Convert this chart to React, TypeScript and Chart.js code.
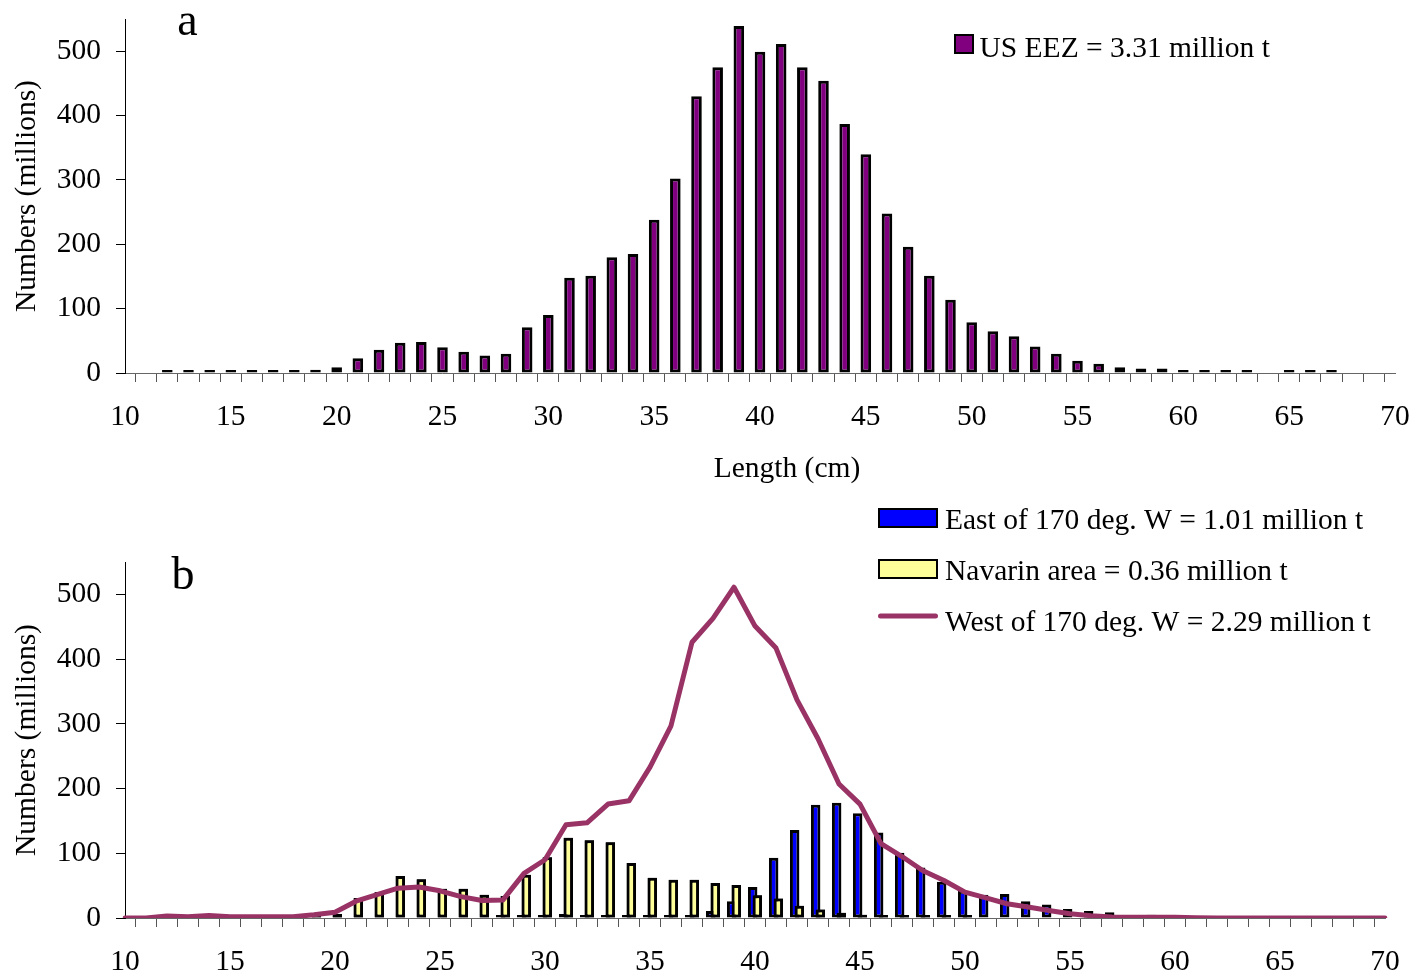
import React, { useEffect, useRef } from 'react';
import { Chart, registerables } from 'chart.js';

Chart.register(...registerables);

const FONT_FAMILY = "'Liberation Serif', 'Times New Roman', Times, serif";
const FONT_SIZE = 29.5;

// Length classes (cm)
const lengthLabels = [
  '10', '11', '12', '13', '14', '15', '16', '17', '18', '19',
  '20', '21', '22', '23', '24', '25', '26', '27', '28', '29',
  '30', '31', '32', '33', '34', '35', '36', '37', '38', '39',
  '40', '41', '42', '43', '44', '45', '46', '47', '48', '49',
  '50', '51', '52', '53', '54', '55', '56', '57', '58', '59',
  '60', '61', '62', '63', '64', '65', '66', '67', '68', '69', '70',
];

const xTitle = 'Length (cm)';
const yTitle = 'Numbers (millions)';

// Panel a: US EEZ numbers (millions)
const usEez = [
  null, null, 3, 2.5, 4.5, 2.5, 2.5, 2.5, 2, 5,
  9, 23, 36, 47, 48, 40, 33, 27, 30, 71,
  90, 148, 151, 180, 185, 238, 302, 430, 475, 539,
  499, 511, 475, 454, 387, 340, 248, 196, 151, 114,
  79, 65, 57, 41, 30, 19, 14.5, 9, 7, 7,
  4.5, 3.5, 3, 3, null, 2, 2, 2, null, null, null,
];

// Panel b: East of 170 deg. W
const eastOf170 = [
  null, null, null, null, null, null, null, null, null, null,
  null, null, null, null, null, null, null, null, 1, 1,
  2, 6, 3, 3, 3, 3, 3, 3, 11, 26,
  48, 93, 136, 175, 178, 162, 132, 101, 78, 56,
  42, 36, 37, 26, 21, 14, 11, 9, 4.5, 5,
  4.5, null, null, null, null, null, null, null, null, null, null,
];

// Panel b: Navarin area
const navarin = [
  null, null, null, null, null, null, null, null, null, 1,
  6, 31, 40, 65, 60, 45, 45, 36, 34, 67,
  94, 124, 120, 117, 85, 62, 59, 59, 54, 51,
  35, 30, 19, 13, 8, 5, 4, 2, 1.5, 1,
  1, null, null, null, null, null, null, null, null, null,
  null, null, null, null, null, null, null, null, null, null, null,
];

// Panel b: West of 170 deg. W (line)
const westOf170 = [
  0, 0, 3, 2, 4, 2, 2, 2, 2, 5,
  9, 26, 36, 46, 48, 42, 33, 27, 28, 69,
  90, 144, 147, 176, 181, 233, 297, 426, 463, 511,
  451, 417, 337, 277, 207, 176, 115, 95, 73, 58,
  40, 31, 22, 17, 11.5, 6.5, 3.5, 1.5, 1, 1,
  1, 0.5, 0, 0, 0, 0, 0, 0, 0, 0, 0,
];

const yTickMax = 500;

const font = { family: FONT_FAMILY, size: FONT_SIZE };

function xAxis(height: number) {
  return {
    type: 'category',
    offset: false,
    grid: {
      display: true,
      drawOnChartArea: false,
      drawTicks: true,
      tickLength: 9,
      tickColor: '#555',
      tickWidth: 1,
    },
    border: { display: true, color: '#666', width: 1 },
    ticks: {
      autoSkip: false,
      maxRotation: 0,
      minRotation: 0,
      padding: 18,
      color: '#000',
      font,
      callback: function (this: any, value: any) {
        const lab = this.getLabelForValue(value);
        return Number(lab) % 5 === 0 ? lab : '';
      },
    },
    title: { display: false },
    afterFit: (s: any) => {
      s.height = height;
      s.paddingLeft = 0;
      s.paddingRight = 0;
    },
  };
}

function yAxis() {
  return {
    type: 'linear',
    min: 0,
    max: 550,
    grid: {
      display: true,
      drawOnChartArea: false,
      drawTicks: true,
      tickLength: 9,
      tickColor: '#000',
      tickWidth: 1,
    },
    border: { display: true, color: '#000', width: 1 },
    ticks: { stepSize: 100, padding: 15, color: '#000', font },
    afterBuildTicks: (s: any) => {
      s.ticks = s.ticks.filter((t: any) => t.value <= yTickMax);
    },
    title: {
      display: true,
      text: yTitle,
      color: '#000',
      font,
      padding: { top: 9.5, bottom: 0 },
    },
    afterFit: (s: any) => {
      s.width = 125;
      s.paddingTop = 0;
      s.paddingBottom = 0;
    },
  };
}

type LegendItem = {
  kind: 'box' | 'line';
  datasetIndex: number;
  x: number;
  y: number;
  w: number;
  h: number;
  textX: number;
  textY: number;
};

type OverlayText = { text: string; x: number; y: number; size: number };

function overlayPlugin(texts: OverlayText[], items: LegendItem[]) {
  return {
    id: 'overlay',
    afterDraw(chart: any) {
      const ctx = chart.ctx as CanvasRenderingContext2D;
      ctx.save();
      ctx.fillStyle = '#000';
      ctx.textAlign = 'center';
      ctx.textBaseline = 'alphabetic';
      for (const t of texts) {
        ctx.font = `${t.size}px ${FONT_FAMILY}`;
        ctx.fillText(t.text, t.x, t.y);
      }
      // legend
      ctx.textAlign = 'left';
      ctx.font = `${FONT_SIZE}px ${FONT_FAMILY}`;
      for (const it of items) {
        const ds = chart.data.datasets[it.datasetIndex];
        if (it.kind === 'box') {
          ctx.fillStyle = ds.backgroundColor;
          ctx.fillRect(it.x, it.y, it.w, it.h);
          ctx.strokeStyle = '#000';
          ctx.lineWidth = 2;
          ctx.strokeRect(it.x + 1, it.y + 1, it.w - 2, it.h - 2);
        } else {
          ctx.strokeStyle = ds.borderColor;
          ctx.lineWidth = 5;
          ctx.lineCap = 'round';
          ctx.beginPath();
          ctx.moveTo(it.x + 2.5, it.y);
          ctx.lineTo(it.x + it.w - 2.5, it.y);
          ctx.stroke();
        }
        ctx.fillStyle = '#000';
        ctx.fillText(ds.label, it.textX, it.textY);
      }
      ctx.restore();
    },
  };
}

// Draw the Navarin bars over the East bars (as in the original overlapped grouping)
const overlapPlugin = {
  id: 'overlapRedraw',
  afterDatasetDraw(chart: any, args: any) {
    if (args.index === 0) {
      const meta = chart.getDatasetMeta(1);
      if (meta && meta.controller) meta.controller.draw();
    }
  },
};

export default function App() {
  const topRef = useRef<HTMLCanvasElement | null>(null);
  const botRef = useRef<HTMLCanvasElement | null>(null);

  useEffect(() => {
    Chart.defaults.font.family = FONT_FAMILY;
    Chart.defaults.color = '#000';

    const top = new Chart(topRef.current as HTMLCanvasElement, {
      type: 'bar',
      data: {
        labels: lengthLabels,
        datasets: [
          {
            label: 'US EEZ = 3.31 million t',
            data: usEez as any,
            backgroundColor: '#800080',
            borderColor: '#000',
            borderWidth: 3,
            borderSkipped: false,
            inflateAmount: 0,
            barPercentage: 0.5,
            categoryPercentage: 1,
            minBarLength: 3,
          } as any,
        ],
      },
      options: {
        responsive: false,
        animation: false,
        layout: { padding: { top: 19, right: 19, left: 0, bottom: 0 } },
        plugins: { legend: { display: false }, tooltip: { enabled: false } },
        scales: { x: xAxis(117) as any, y: yAxis() as any },
      },
      plugins: [
        overlayPlugin(
          [
            { text: 'a', x: 187.5, y: 35, size: 46 },
            { text: xTitle, x: 787, y: 477, size: FONT_SIZE },
          ],
          [{ kind: 'box', datasetIndex: 0, x: 954, y: 34, w: 20, h: 20, textX: 979.5, textY: 56.5 }]
        ),
      ],
    });

    const bot = new Chart(botRef.current as HTMLCanvasElement, {
      type: 'bar',
      data: {
        labels: lengthLabels,
        datasets: [
          {
            type: 'bar',
            label: 'East of 170 deg. W = 1.01 million t',
            data: eastOf170 as any,
            backgroundColor: '#0000FF',
            borderColor: '#000',
            borderWidth: 3,
            borderSkipped: false,
            inflateAmount: 0,
            barPercentage: 2.04,
            categoryPercentage: 0.443,
            minBarLength: 3,
            order: 0,
          } as any,
          {
            type: 'bar',
            label: 'Navarin area = 0.36 million t',
            data: navarin as any,
            backgroundColor: '#FFFF99',
            borderColor: '#000',
            borderWidth: 3,
            borderSkipped: false,
            inflateAmount: 0,
            barPercentage: 2.04,
            categoryPercentage: 0.443,
            minBarLength: 3,
            order: 0,
          } as any,
          {
            type: 'line',
            label: 'West of 170 deg. W = 2.29 million t',
            data: westOf170,
            borderColor: '#993366',
            backgroundColor: '#993366',
            borderWidth: 5,
            pointRadius: 0,
            tension: 0,
            fill: false,
            borderJoinStyle: 'round',
            borderCapStyle: 'round',
            order: -1,
          } as any,
        ],
      },
      options: {
        responsive: false,
        animation: false,
        layout: { padding: { top: 72, right: 29, left: 0, bottom: 0 } },
        plugins: { legend: { display: false }, tooltip: { enabled: false } },
        scales: { x: xAxis(58) as any, y: yAxis() as any },
      },
      plugins: [
        overlapPlugin,
        overlayPlugin(
          [{ text: 'b', x: 183, y: 99, size: 46 }],
          [
            { kind: 'box', datasetIndex: 0, x: 878, y: 18, w: 60, h: 20, textX: 945, textY: 39.3 },
            { kind: 'box', datasetIndex: 1, x: 878, y: 69, w: 60, h: 20, textX: 945, textY: 90 },
            { kind: 'line', datasetIndex: 2, x: 878, y: 126, w: 60, h: 5, textX: 945, textY: 140.7 },
          ]
        ),
      ],
    });

    return () => {
      top.destroy();
      bot.destroy();
    };
  }, []);

  return (
    <div style={{ position: 'absolute', left: 0, top: 0, width: 1414, height: 976, background: '#fff' }}>
      <canvas
        ref={topRef}
        width={1414}
        height={490}
        style={{ position: 'absolute', left: 0, top: 0, width: 1414, height: 490, display: 'block' }}
      />
      <canvas
        ref={botRef}
        width={1414}
        height={486}
        style={{ position: 'absolute', left: 0, top: 490, width: 1414, height: 486, display: 'block' }}
      />
    </div>
  );
}
